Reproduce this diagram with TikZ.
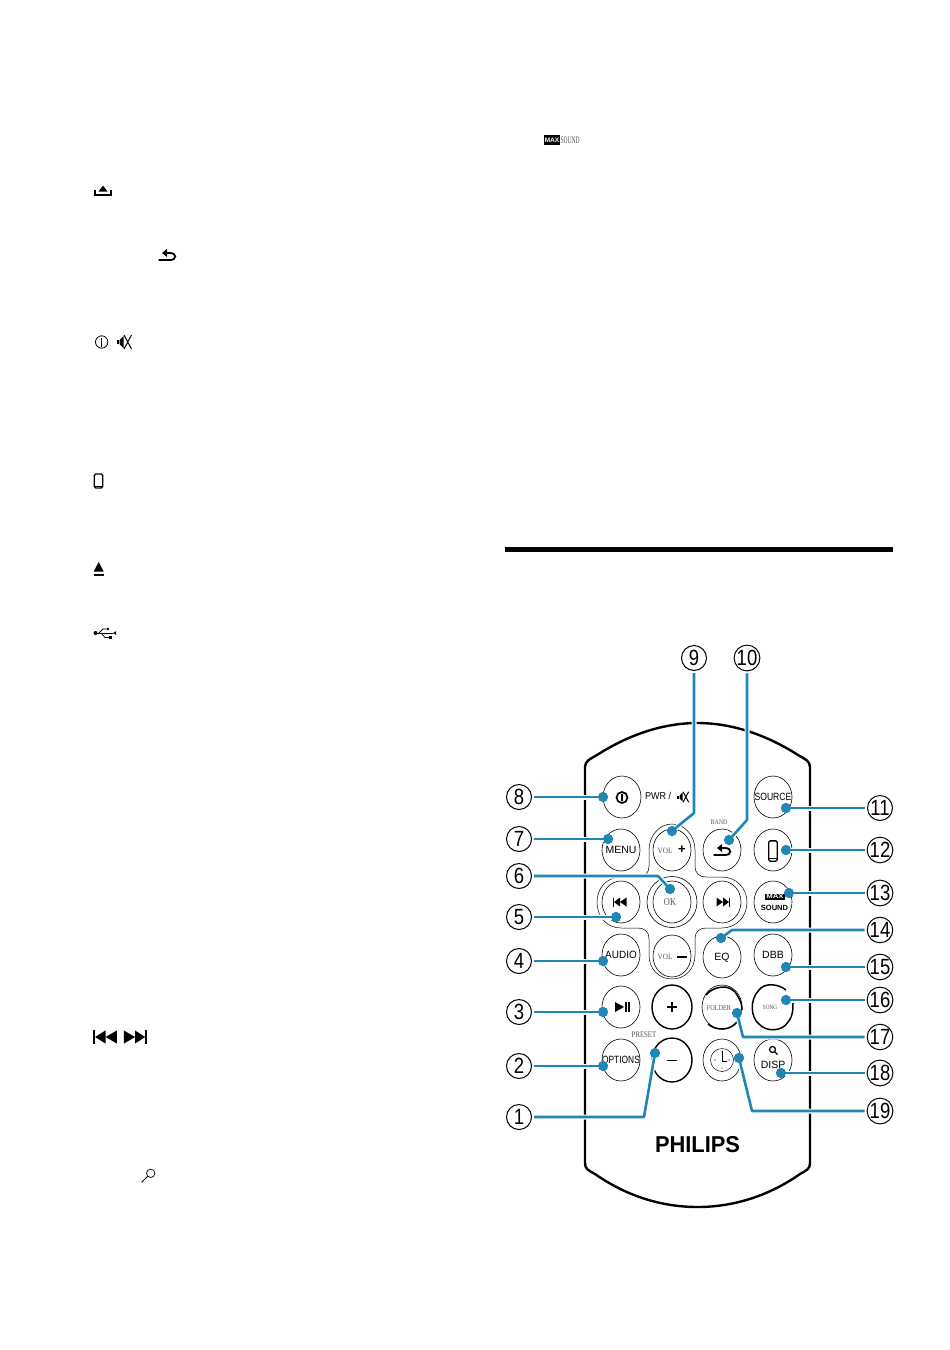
\documentclass[tikz,border=0pt]{standalone}
\usepackage{fontspec}
\setmainfont{Liberation Sans}
\newfontfamily\srf{Liberation Serif}
\usetikzlibrary{shapes.geometric}
\definecolor{leadblue}{HTML}{1F86B5}
\definecolor{softgray}{HTML}{555555}
\newcommand{\fsz}[1]{\fontsize{#1}{#1}\selectfont}
\tikzset{
  x=1pt,y=-1pt,
  numc/.style={circle,draw=black,line width=1pt,minimum size=25pt,inner sep=0pt,outer sep=2.5pt,font=\fsz{22}},
  btn/.style={ellipse,draw=black,line width=0.6pt,minimum width=38pt,minimum height=42pt,inner sep=0pt},
  btnthick/.style={btn,line width=1.4pt},
  btext/.style={inner sep=0pt,font=\fsz{10.5}},
  gtext/.style={inner sep=0pt,text=softgray,font=\srf\fsz{8}},
  lead/.style={draw=leadblue,line width=2.6pt,line join=round,preaction={draw=white,line width=5pt}},
  dot/.style={circle,fill=leadblue,minimum size=10pt,inner sep=0pt},
  plain/.style={inner sep=0pt},
  pics/backicon/.style={code={
    \draw[line width=1.8pt] (-8.5,5) -- (3,5) .. controls (10,5) and (10,-2) .. (3,-2) -- (-2,-2);
    \fill (-5,-2) -- (0,-6) -- (0,2) -- cycle;}},
  pics/phoneicon/.style={code={
    \draw[line width=1.3pt,rounded corners=1.5pt] (-4.3,-7) rectangle (4.3,7);
    \draw[line width=1.3pt] (-4.3,5.3) -- (4.3,5.3);}},
  pics/skipicon/.style={code={
    \fill (-7,-4.5) rectangle (-5.9,4.5);
    \fill (-6,0) -- (0,-4.5) -- (0,4.5) -- cycle;
    \fill (0,0) -- (6.5,-4.5) -- (6.5,4.5) -- cycle;}},
  pics/muteicon/.style={code={
    \fill (-7.5,-2) rectangle (-5,2);
    \fill (-4.5,-2) -- (-0.5,-6) -- (-0.5,6) -- (-4.5,2) -- cycle;
    \draw[line width=1pt] (0,-7) -- (7.5,7) (7.5,-7) -- (0,7);}}
}
\newcommand{\nrw}[1]{\scalebox{.84}[1]{#1}}
\begin{document}
\begin{tikzpicture}
\useasboundingbox (0,0) rectangle (950,1350);
\fill[white] (0,0) rectangle (950,1350);

% --- left column icons
\fill (98.5,191.5) -- (103,185.5) -- (107.5,191.5) -- cycle;
\draw[line width=1.5pt] (95,189.5) -- (95,195) -- (111,195) -- (111,189.5);
\pic at (167,255) {backicon};
\draw[line width=0.8pt] (101.7,342) circle (6.2);
\draw[line width=0.8pt] (101.7,337.5) -- (101.7,346.5);
\pic at (124,342) {muteicon};
\pic at (98.5,481) {phoneicon};
\fill (98.7,562) -- (93.7,571.5) -- (103.7,571.5) -- cycle;
\fill (93.7,573.5) rectangle (103.7,575.5);
% usb
\draw[line width=0.8pt] (95,633) -- (113,633);
\fill (95.5,633) circle (2);
\fill (113,633) -- (116,631.2) -- (116,634.8) -- cycle;
\draw[line width=0.8pt] (99,633) -- (103,629) -- (108,629);
\fill (108,629) circle (1.3);
\draw[line width=0.8pt] (101,633) -- (105,637.5) -- (110,637.5);
\fill (109,636) rectangle (112,639);
% prev / next
\pic[xscale=1.75,yscale=1.45] at (105.5,1037) {skipicon};
\pic[xscale=-1.7,yscale=1.45] at (135,1037) {skipicon};
% search
\draw[line width=0.7pt] (150.7,1173.3) circle (4.2);
\draw[line width=0.9pt] (147.7,1176.3) -- (141.7,1182.3);

% --- MAX SOUND top
\fill[black] (544,135) rectangle (560,145);
\node[plain,text=white,font=\bfseries\fsz{6.5}] (maxtop) at (552,140) {MAX};
\node[plain,text=softgray,font=\srf\fsz{10}] (soundtop) at (570,140) {\scalebox{.55}[1]{SOUND}};

% --- rule
\fill[black] (505,547) rectangle (893,552);

% --- remote body
\draw[line width=2.4pt,line join=round] (585,1163) -- (585,767)
  .. controls (585,761) and (590,759) .. (597,755)
  .. controls (625,737) and (660,723) .. (697.5,723)
  .. controls (735,723) and (770,737) .. (798,755)
  .. controls (805,759) and (810,761) .. (810,767)
  -- (810,1163)
  .. controls (810,1169) and (807,1170) .. (800,1174)
  .. controls (770,1195) and (735,1207) .. (697.5,1207)
  .. controls (660,1207) and (625,1195) .. (595,1174)
  .. controls (588,1170) and (585,1169) .. (585,1163) -- cycle;

% --- cross-shaped outline of the pad
\draw[line width=0.5pt] (695,850) -- (695,866)
  .. controls (695,873) and (699,877) .. (706,877) -- (722,877)
  .. controls (736,877) and (747,888) .. (747,902)
  .. controls (747,917) and (736,928) .. (722,928) -- (706,928)
  .. controls (699,928) and (695,932) .. (695,939) -- (695,955)
  .. controls (695,969) and (685,979) .. (672,979)
  .. controls (659,979) and (649,969) .. (649,955) -- (649,939)
  .. controls (649,932) and (645,928) .. (638,928) -- (621,928)
  .. controls (607,928) and (597,917) .. (597,902)
  .. controls (597,888) and (607,877) .. (621,877) -- (638,877)
  .. controls (645,877) and (649,873) .. (649,866) -- (649,850)
  .. controls (649,836) and (659,824) .. (672,824)
  .. controls (685,824) and (695,836) .. (695,850) -- cycle;

% --- buttons
\node[btn] (bpower) at (622,797) {};
\draw[line width=1.7pt] (622,797.5) circle (5.5);
\draw[line width=1.7pt] (622,793.5) -- (622,801);
\node[btn] (bsource) at (773,797) {};
\node[btext] (tsource) at (773,797) {\scalebox{.82}[1]{SOURCE}};
\node[btn] (bmenu) at (621,850) {};
\node[btext] (tmenu) at (621,850) {MENU};
\node[btn] (bvolp) at (672,850) {};
\node[btn] (bback) at (722,850) {};
\pic at (722,850) {backicon};
\node[btn] (bphone) at (773,850) {};
\pic[yscale=1.45] at (773,851) {phoneicon};
\node[btn] (bprev) at (621,902) {};
\pic at (620,902) {skipicon};
\node[btn,minimum width=50pt,minimum height=51pt] (bokout) at (672,902) {};
\node[btn] (bok) at (672,902) {};
\node[btn] (bnext) at (722,902) {};
\pic[xscale=-1] at (723,902) {skipicon};
\node[btn] (bmax) at (773,902) {};
\fill[black] (765,893.5) rectangle (785,900);
\node[plain,text=white,font=\bfseries\fsz{6}] (maxrem) at (775,896.8) {\scalebox{1.3}[1]{MAX}};
\node[plain,font=\bfseries\fsz{7.5}] (soundrem) at (774.5,908) {SOUND};
\node[btn] (baudio) at (621,955) {};
\node[btext] (taudio) at (621,955) {\scalebox{.95}[1]{AUDIO}};
\node[btn] (bvolm) at (672,956) {};
\node[btn] (beq) at (722,957) {};
\node[btext] (teq) at (722,958) {EQ};
\node[btn] (bdbb) at (773,955) {};
\node[btext] (tdbb) at (773,955) {DBB};
\node[btn] (bplay) at (621,1007) {};
\fill (615,1002) -- (624,1007) -- (615,1012) -- cycle;
\fill (625,1002) rectangle (626.7,1012);
\fill (628,1002) rectangle (629.7,1012);
\node[btnthick,minimum width=40pt,minimum height=44pt] (bplus) at (672,1007) {};
\draw[line width=1.7pt] (667,1007) -- (677,1007) (672,1002) -- (672,1012);
\node[btn,minimum width=40pt,minimum height=44pt] (bfolder) at (722,1007) {};
\draw[line width=1.5pt] (706,995) .. controls (712,987) and (730,982) .. (737,995) .. controls (741,1001) and (742,1005) .. (742,1010);
\draw[line width=1.5pt] (708,1024) .. controls (716,1031) and (730,1031) .. (737,1022);
\node[btn,minimum width=40pt,minimum height=44pt,draw=none] (bsong) at (773,1007) {};
\draw[line width=1.5pt] (786,990) .. controls (777,983) and (764,983) .. (759,990)
  .. controls (749,1000) and (751,1018) .. (759,1024)
  .. controls (766,1032) and (782,1032) .. (788,1022)
  .. controls (793,1016) and (793,1010) .. (793,1003);
\node[btn] (boptions) at (621,1060) {};
\node[btext] (toptions) at (621,1060) {\scalebox{.8}[1]{OPTIONS}};
\node[btnthick,minimum width=40pt,minimum height=44pt] (bminus) at (672,1060) {};
\draw[line width=1.8pt] (667,1060.5) -- (677,1060.5);
\node[btn] (bclock) at (722,1060) {};
\draw[line width=0.5pt] (722,1060) circle (11.5);
\draw[line width=0.6pt] (722,1051) -- (722,1061) -- (727,1061);
\fill (715,1060) circle (.6) (722,1068) circle (.6) (729,1060) circle (.6) (722,1052) circle (.6);
\node[btn] (bdisp) at (773,1060) {};
\draw[line width=1.2pt] (772.5,1049.5) circle (3);
\draw[line width=1.4pt] (774.5,1051.5) -- (777.5,1054.5);
\node[btext] (tdisp) at (773,1065) {DISP};

% --- labels on the remote
\node[plain,font=\fsz{10},anchor=west] (tpwr) at (645,796) {\scalebox{.9}[1]{PWR /}};
\pic[scale=.75] at (683,797) {muteicon};
\node[gtext,font=\srf\fsz{7}] (tband) at (719,822) {\scalebox{.85}[1]{BAND}};
\node[gtext] (tvolp) at (665,851) {\scalebox{.9}[1]{VOL}};
\node[plain,font=\bfseries\fsz{13}] (tplus) at (682,850) {+};
\node[gtext,font=\srf\fsz{10.5}] (tok) at (670,902) {\scalebox{.8}[1]{OK}};
\node[gtext] (tvolm) at (665,957) {\scalebox{.9}[1]{VOL}};
\draw[line width=1.5pt] (677,957) -- (687,957);
\node[gtext,font=\srf\fsz{7.5}] (tfolder) at (719,1008) {\scalebox{.83}[1]{FOLDER}};
\node[gtext,font=\srf\fsz{6.5}] (tsong) at (770,1007) {\scalebox{.8}[1]{SONG}};
\node[gtext,font=\srf\fsz{8.5}] (tpreset) at (644,1034.5) {\scalebox{.8}[1]{PRESET}};
\node[plain,font=\bfseries\fsz{23}] (tphilips) at (697.5,1145) {\scalebox{.95}[1]{PHILIPS}};

% --- numbered callouts
\node[numc] (n1) at (519,1117) {\nrw{1}};
\node[numc] (n2) at (519,1066) {\nrw{2}};
\node[numc] (n3) at (519,1012) {\nrw{3}};
\node[numc] (n4) at (519,961) {\nrw{4}};
\node[numc] (n5) at (519,917) {\nrw{5}};
\node[numc] (n6) at (519,876) {\nrw{6}};
\node[numc] (n7) at (519,839) {\nrw{7}};
\node[numc] (n8) at (519,797) {\nrw{8}};
\node[numc] (n9) at (694,658) {\nrw{9}};
\node[numc] (n10) at (747,658) {\nrw{10}};
\node[numc] (n11) at (880,808) {\nrw{11}};
\node[numc] (n12) at (880,850) {\nrw{12}};
\node[numc] (n13) at (880,893) {\nrw{13}};
\node[numc] (n14) at (880,930) {\nrw{14}};
\node[numc] (n15) at (880,967) {\nrw{15}};
\node[numc] (n16) at (880,1000) {\nrw{16}};
\node[numc] (n17) at (880,1037) {\nrw{17}};
\node[numc] (n18) at (880,1073) {\nrw{18}};
\node[numc] (n19) at (880,1111) {\nrw{19}};

% --- elbows and dots
\coordinate (e1) at (644,1117);
\coordinate (e6) at (658,876);
\coordinate (e9) at (694,813);
\coordinate (e10) at (747,820);
\coordinate (e14) at (732,930);
\coordinate (e17) at (743,1037);
\coordinate (e19) at (752,1111);

\node[dot] (d1) at (655,1053) {};
\node[dot] (d2) at (603,1066) {};
\node[dot] (d3) at (603,1012) {};
\node[dot] (d4) at (603,961) {};
\node[dot] (d5) at (616,917) {};
\node[dot] (d6) at (670,889) {};
\node[dot] (d7) at (608,839) {};
\node[dot] (d8) at (603,797) {};
\node[dot] (d9) at (672,831) {};
\node[dot] (d10) at (729,840) {};
\node[dot] (d11) at (786,808) {};
\node[dot] (d12) at (786,850) {};
\node[dot] (d13) at (789,893) {};
\node[dot] (d14) at (721,938) {};
\node[dot] (d15) at (786,967) {};
\node[dot] (d16) at (786,1000) {};
\node[dot] (d17) at (737,1013) {};
\node[dot] (d18) at (781,1073) {};
\node[dot] (d19) at (739,1058) {};

\path[lead] (n1.east) -- (e1) -- (d1.center);
\path[lead] (n2.east) -- (d2.center);
\path[lead] (n3.east) -- (d3.center);
\path[lead] (n4.east) -- (d4.center);
\path[lead] (n5.east) -- (d5.center);
\path[lead] (n6.east) -- (e6) -- (d6.center);
\path[lead] (n7.east) -- (d7.center);
\path[lead] (n8.east) -- (d8.center);
\path[lead] (n9.south) -- (e9) -- (d9.center);
\path[lead] (n10.south) -- (e10) -- (d10.center);
\path[lead] (n11.west) -- (d11.center);
\path[lead] (n12.west) -- (d12.center);
\path[lead] (n13.west) -- (d13.center);
\path[lead] (n14.west) -- (e14) -- (d14.center);
\path[lead] (n15.west) -- (d15.center);
\path[lead] (n16.west) -- (d16.center);
\path[lead] (n17.west) -- (e17) -- (d17.center);
\path[lead] (n18.west) -- (d18.center);
\path[lead] (n19.west) -- (e19) -- (d19.center);

\foreach \k in {1,...,19}{\node[dot] at (d\k) {};}
\end{tikzpicture}
\end{document}
